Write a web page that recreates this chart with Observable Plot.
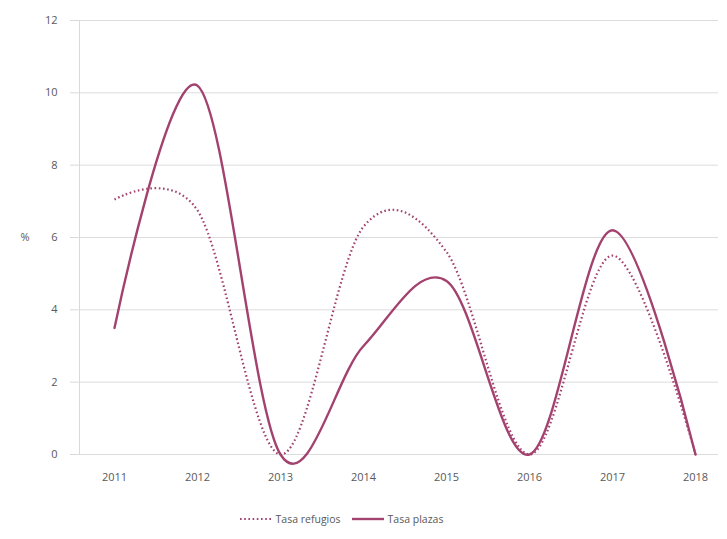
<!DOCTYPE html>
<html>
<head>
<meta charset="utf-8">
<script src="https://cdn.jsdelivr.net/npm/d3@7"></script>
<script src="https://cdn.jsdelivr.net/npm/@observablehq/plot@0.6"></script>
<style>
  body { margin: 0; background: #fff; font-family: "Open Sans", sans-serif; }
  #chart { width: 727px; position: relative; }
  .legend { display: flex; justify-content: center; align-items: center; gap: 10px; font-size: 10.5px; color: #595959; margin-top: 22px; padding-right: 45px; }
  .legend .item { display: flex; align-items: center; gap: 3px; }
</style>
</head>
<body>
<div id="chart"></div>
<script>
const years = [2011, 2012, 2013, 2014, 2015, 2016, 2017, 2018];
const tasaRefugios = [7.05, 6.75, 0, 6.3, 5.6, 0, 5.5, 0];
const tasaPlazas = [3.5, 10.2, 0, 3.0, 4.8, 0, 6.2, 0];
const yTicks = [0, 2, 4, 6, 8, 10, 12];
const seriesNames = ["Tasa refugios", "Tasa plazas"];
const lineColor = "#a3426f";

const refugios = years.map((y, i) => ({year: y, value: tasaRefugios[i]}));
const plazas = years.map((y, i) => ({year: y, value: tasaPlazas[i]}));

const chart = Plot.plot({
  width: 727,
  height: 490,
  marginLeft: 77,
  marginRight: 9,
  marginTop: 20,
  marginBottom: 36,
  style: {fontFamily: "Open Sans, sans-serif", fontSize: "11px", color: "#595959", background: "#fff"},
  x: {type: "point", domain: years, range: [112, 696], padding: 0},
  y: {domain: [0, 12]},
  marks: [
    Plot.ruleY(yTicks, {stroke: "#dcdcdc"}),
    Plot.ruleX([years[0]], {dx: -35, stroke: "#d9d9d9"}),
    Plot.axisY({ticks: yTicks, tickSize: 7, tickPadding: 13, stroke: "#d9d9d9", label: null, tickFormat: d => String(d)}),
    Plot.axisX({tickSize: 0, tickPadding: 19, label: null, tickFormat: d => String(d)}),
    Plot.text(["%"], {frameAnchor: "left", dx: -57, y: () => 6, fill: "#595959", fontSize: 11}),
    Plot.line(refugios, {x: "year", y: "value", curve: "cardinal", tension: 0, stroke: lineColor, strokeWidth: 2.2, strokeDasharray: "1.6,2.6", strokeLinecap: "butt"}),
    Plot.line(plazas, {x: "year", y: "value", curve: "cardinal", tension: 0, stroke: lineColor, strokeWidth: 2.4})
  ]
});
document.getElementById("chart").appendChild(chart);

const legend = document.createElement("div");
legend.className = "legend";
legend.innerHTML = `
  <div class="item"><svg width="34" height="6"><line x1="1" y1="3" x2="33" y2="3" stroke="${lineColor}" stroke-width="2.2" stroke-dasharray="1.6,2.6"/></svg><span>${seriesNames[0]}</span></div>
  <div class="item"><svg width="34" height="6"><line x1="1" y1="3" x2="33" y2="3" stroke="${lineColor}" stroke-width="2.4"/></svg><span>${seriesNames[1]}</span></div>`;
document.getElementById("chart").appendChild(legend);
</script>
</body>
</html>
